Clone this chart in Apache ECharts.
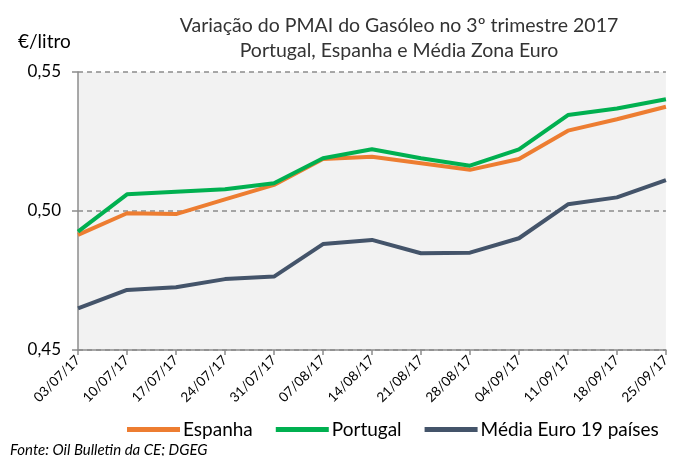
<!DOCTYPE html>
<html><head><meta charset="utf-8">
<script src="https://cdn.jsdelivr.net/npm/echarts@6/dist/echarts.min.js"></script>
<style>html,body{margin:0;padding:0;background:#fff}#c{width:673px;height:456px}</style>
</head><body><div id="c"></div>
<script>
var categories = ['03/07/17','10/07/17','17/07/17','24/07/17','31/07/17','07/08/17','14/08/17','21/08/17','28/08/17','04/09/17','11/09/17','18/09/17','25/09/17'];
var espanha  = [0.4914,0.4992,0.4989,0.5042,0.5094,0.5187,0.5195,0.5172,0.5148,0.5187,0.5289,0.5330,0.5375];
var portugal = [0.4926,0.5060,0.5069,0.5078,0.5100,0.5190,0.5222,0.5190,0.5163,0.5222,0.5345,0.5369,0.5402];
var mediaEuro = [0.4650,0.4716,0.4726,0.4755,0.4764,0.4881,0.4896,0.4848,0.4850,0.4902,0.5024,0.5049,0.5111];
var yTicks = {min:0.45, max:0.55, interval:0.05};

var FONT = 'Lato';
var chart = echarts.init(document.getElementById('c'));
function mk(name, data, color){
  return {name:name, type:'line', data:data, symbol:'none', smooth:false,
    lineStyle:{color:color, width:4}, itemStyle:{color:color}};
}
chart.setOption({
  animation:false,
  textStyle:{fontFamily:FONT},
  title:[
    {text:'Variação do PMAI do Gasóleo no 3º trimestre 2017\nPortugal, Espanha e Média Zona Euro',
     left:394, textAlign:'center', top:8,
     textStyle:{fontFamily:FONT, fontSize:19.5, fontWeight:'normal', color:'#333', lineHeight:25}},
    {text:'€/litro', left:13, top:27, textStyle:{fontFamily:FONT, fontSize:19, fontWeight:'normal', color:'#000'}},
    {text:'Fonte: Oil Bulletin da CE; DGEG', left:5, top:438,
     textStyle:{fontFamily:FONT, fontSize:15, fontStyle:'italic', fontWeight:'normal', color:'#000'}}
  ],
  legend:{left:122, top:415, width:560, itemWidth:53, itemHeight:5, itemGap:23, icon:'rect',
    textStyle:{fontFamily:FONT, fontSize:19, color:'#000', padding:[0,0,0,-2]},
    data:['Espanha','Portugal','Média Euro 19 países']},
  grid:{left:78, right:3, top:72, bottom:106, show:true, backgroundColor:'#f2f2f2', borderWidth:0},
  xAxis:{type:'category', data:categories, boundaryGap:false,
    axisLine:{lineStyle:{color:'#8c8c8c', width:1.5}},
    axisTick:{show:true, alignWithLabel:true, length:5, lineStyle:{color:'#8c8c8c', width:1.5}},
    axisLabel:{rotate:45, fontSize:13.5, color:'#000', margin:8, fontFamily:FONT, interval:0}},
  yAxis:{type:'value', min:yTicks.min, max:yTicks.max, interval:yTicks.interval,
    axisLine:{show:true, lineStyle:{color:'#8c8c8c', width:1.5}},
    axisTick:{show:true, length:6, lineStyle:{color:'#8c8c8c', width:1.5}},
    axisLabel:{fontSize:17, color:'#000', margin:17, fontFamily:FONT,
      formatter:function(v){return v.toFixed(2).replace('.',',');}},
    splitLine:{show:true, lineStyle:{color:'#8c8c8c', type:[5,4], width:1.5}}},
  series:[mk('Espanha', espanha, '#ED7D31'), mk('Portugal', portugal, '#00B050'), mk('Média Euro 19 países', mediaEuro, '#44546A')]
});
</script></body></html>
